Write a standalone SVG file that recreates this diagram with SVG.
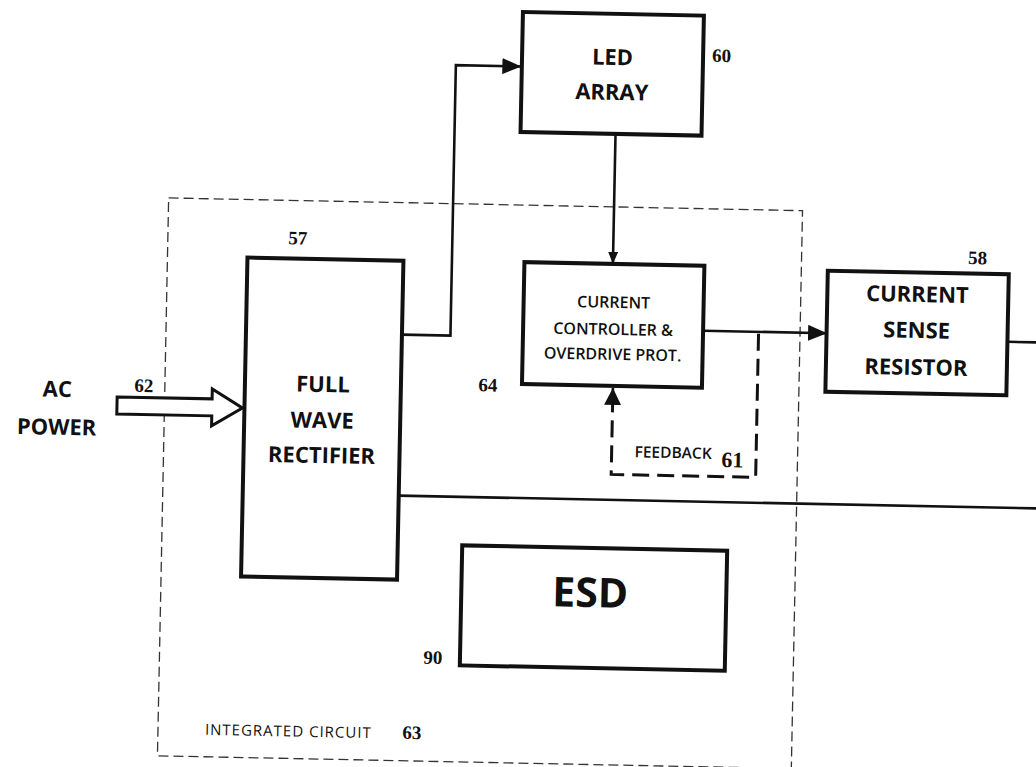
<svg xmlns="http://www.w3.org/2000/svg" width="1036" height="767" viewBox="0 0 1036 767">
<style>
.box{fill:#fff;stroke:#111;stroke-width:4}
.ln{fill:none;stroke:#111;stroke-width:2.6}
.dash{fill:none;stroke:#111;stroke-width:3;stroke-dasharray:17 8}
.ic{fill:none;stroke:#333;stroke-width:1.3;stroke-dasharray:10 5}
.lb{font-family:"Open Sans","Liberation Sans",sans-serif;font-weight:700;font-size:22px;fill:#111;text-anchor:middle}
.sm{font-family:"Open Sans","Liberation Sans",sans-serif;font-weight:600;font-size:16px;fill:#111;text-anchor:middle}
.num{font-family:"Liberation Serif","Times New Roman",serif;font-weight:700;font-size:19px;fill:#111;text-anchor:middle}
</style>
<defs>
<marker id="arr" markerUnits="userSpaceOnUse" markerWidth="19" markerHeight="16" refX="19" refY="8" orient="auto"><path d="M0,0 L19,8 L0,16 Z" fill="#111"/></marker>
<marker id="arrS" markerUnits="userSpaceOnUse" markerWidth="12" markerHeight="10" refX="12" refY="5" orient="auto"><path d="M0,0 L12,5 L0,10 Z" fill="#111"/></marker>
<marker id="arrF" markerUnits="userSpaceOnUse" markerWidth="17" markerHeight="17" refX="17" refY="8.5" orient="auto"><path d="M0,0 L17,8.5 L0,17 Z" fill="#111"/></marker>
</defs>
<rect width="1036" height="767" fill="#fff"/>
<g transform="rotate(1.15 518 383)">
<g id="ic">
<rect class="ic" x="165" y="205" width="634" height="558"/>
<text x="212" y="741" style="font-family:'Open Sans','Liberation Sans',sans-serif;font-size:15px;letter-spacing:1px;fill:#111">INTEGRATED CIRCUIT</text>
<text class="num" x="419" y="741">63</text>
</g>
<g id="connectors">
<path class="ln" d="M401,337 H449.5 V66.5 H515" marker-end="url(#arr)"/>
<path class="ln" d="M610.5,132 V262" marker-end="url(#arrS)"/>
<path class="ln" d="M702,327 H826" marker-end="url(#arr)"/>
<path class="ln" d="M1006.5,332 H1060"/>
<path class="ln" d="M401,498 H1060"/>
<path class="dash" d="M757.5,329 V472.5 H613 V402"/>
<path class="ln" d="M613,402 V386" marker-end="url(#arrF)"/>
<polygon points="117.5,405 212.5,405 212.5,395 243,413.5 212.5,432 212.5,422 117.5,422" fill="#fff" stroke="#111" stroke-width="3" stroke-linejoin="miter"/>
</g>
<g id="ac-power">
<text class="lb" x="57.5" y="406">AC</text>
<text class="lb" x="57.5" y="444">POWER</text>
<text class="num" x="144" y="399.5">62</text>
</g>
<g id="rectifier">
<rect class="box" x="245" y="263" width="156" height="319"/>
<text class="lb" x="323" y="396">FULL</text>
<text class="lb" x="323" y="432">WAVE</text>
<text class="lb" x="323" y="467">RECTIFIER</text>
<text class="num" x="295" y="249">57</text>
</g>
<g id="led-array">
<rect class="box" x="515.5" y="12" width="181" height="120"/>
<text class="lb" x="606" y="63">LED</text>
<text class="lb" x="606" y="98">ARRAY</text>
<text class="num" x="715" y="58">60</text>
</g>
<g id="controller">
<rect class="box" x="522" y="262" width="180" height="122"/>
<text class="sm" x="612" y="306">CURRENT</text>
<text class="sm" x="612" y="333">CONTROLLER &amp;</text>
<text class="sm" x="612" y="358">OVERDRIVE PROT.</text>
<text class="num" x="488" y="392">64</text>
</g>
<g id="feedback">
<text class="sm" x="674.5" y="455" style="font-size:15.5px">FEEDBACK</text>
<text class="num" x="734" y="463" style="font-size:22px">61</text>
</g>
<g id="sense-resistor">
<rect class="box" x="825.5" y="264.5" width="181" height="121"/>
<text class="lb" x="915.5" y="294">CURRENT</text>
<text class="lb" x="915.5" y="330">SENSE</text>
<text class="lb" x="915.5" y="367">RESISTOR</text>
<text class="num" x="975" y="255">58</text>
</g>
<g id="esd">
<rect class="box" x="465.5" y="546.5" width="265" height="120"/>
<text class="lb" x="594.5" y="605.5" style="font-size:41px">ESD</text>
<text class="num" x="438.5" y="665.5">90</text>
</g>
</g>
</svg>
